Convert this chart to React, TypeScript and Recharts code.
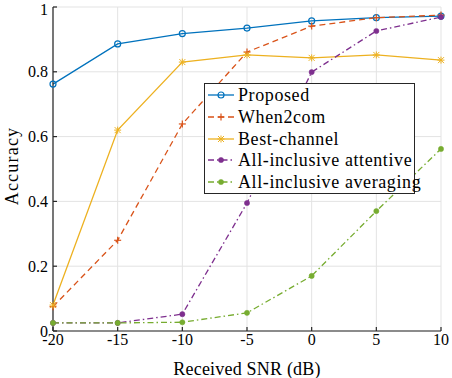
import React from 'react';
import { LineChart, Line, XAxis, YAxis, CartesianGrid, Legend } from 'recharts';

const snr = [-20, -15, -10, -5, 0, 5, 10];
const proposed = [0.762, 0.886, 0.918, 0.935, 0.957, 0.967, 0.972];
const when2com = [0.075, 0.28, 0.639, 0.861, 0.941, 0.967, 0.975];
const bestChannel = [0.08, 0.62, 0.83, 0.852, 0.843, 0.852, 0.836];
const attentive = [0.025, 0.025, 0.052, 0.395, 0.799, 0.926, 0.969];
const averaging = [0.025, 0.025, 0.027, 0.056, 0.17, 0.37, 0.562];
const xTicks = [-20, -15, -10, -5, 0, 5, 10];
const yTicks = [0, 0.2, 0.4, 0.6, 0.8, 1];

const data = snr.map((s, i) => ({
  snr: s,
  proposed: proposed[i],
  when2com: when2com[i],
  best: bestChannel[i],
  attentive: attentive[i],
  averaging: averaging[i],
}));

const FONT = '"Liberation Serif", "DejaVu Serif", serif';
const AX = '#262626';

type Kind = 'circle' | 'plus' | 'star' | 'dot';

const Marker = ({ kind, cx, cy, color }: { kind: Kind; cx: number; cy: number; color: string }) => {
  if (kind === 'circle') return <circle cx={cx} cy={cy} r={3} fill="none" stroke={color} strokeWidth={1.2} />;
  if (kind === 'dot') return <circle cx={cx} cy={cy} r={2.6} fill={color} stroke={color} strokeWidth={0.5} />;
  if (kind === 'plus')
    return (
      <g stroke={color} strokeWidth={1.2}>
        <line x1={cx - 3.5} y1={cy} x2={cx + 3.5} y2={cy} />
        <line x1={cx} y1={cy - 3.5} x2={cx} y2={cy + 3.5} />
      </g>
    );
  return (
    <g stroke={color} strokeWidth={1}>
      <line x1={cx - 3} y1={cy - 3} x2={cx + 3} y2={cy + 3} />
      <line x1={cx - 3} y1={cy + 3} x2={cx + 3} y2={cy - 3} />
      <line x1={cx - 3.5} y1={cy} x2={cx + 3.5} y2={cy} />
      <line x1={cx} y1={cy - 3.5} x2={cx} y2={cy + 3.5} />
    </g>
  );
};

const series = [
  { key: 'proposed', name: 'Proposed', color: '#0072BD', dash: undefined as string | undefined, kind: 'circle' as Kind },
  { key: 'when2com', name: 'When2com', color: '#D95319', dash: '6 4', kind: 'plus' as Kind },
  { key: 'best', name: 'Best-channel', color: '#EDB120', dash: undefined, kind: 'star' as Kind },
  { key: 'attentive', name: 'All-inclusive attentive', color: '#7E2F8E', dash: '6 3 1.5 3', kind: 'dot' as Kind },
  { key: 'averaging', name: 'All-inclusive averaging', color: '#77AC30', dash: '6 3 1.5 3', kind: 'dot' as Kind },
];

const LegendContent = () => (
  <div
    style={{
      border: `1px solid ${AX}`,
      background: '#fff',
      width: 211,
      height: 111,
      padding: '0 0 0 3px',
      fontFamily: FONT,
      fontSize: 18,
      letterSpacing: 0.6,
      lineHeight: '18px',
      color: '#000',
      boxSizing: 'border-box',
      display: 'flex',
      flexDirection: 'column',
      justifyContent: 'center',
    }}
  >
    {series.map((s) => (
      <div key={s.key} style={{ display: 'flex', alignItems: 'center', height: 21.7 }}>
        <svg width={27} height={12} style={{ marginRight: 3, flex: 'none' }}>
          <line x1={0} y1={6} x2={26} y2={6} stroke={s.color} strokeWidth={1.3} strokeDasharray={s.dash} />
          <Marker kind={s.kind} cx={13} cy={6} color={s.color} />
        </svg>
        <span style={{ whiteSpace: 'nowrap' }}>{s.name}</span>
      </div>
    ))}
  </div>
);

const YLabel = () => (
  <text
    x={12}
    y={166}
    transform="rotate(-90 12 166)"
    textAnchor="middle"
    dominantBaseline="central"
    fontFamily={FONT}
    fontSize={18}
    letterSpacing={1.2}
    fill="#000"
  >
    Accuracy
  </text>
);

const emptyTick = () => <g />;

export default function App() {
  return (
    <div style={{ position: 'absolute', left: 0, top: 0, width: 452, height: 378, background: '#fff' }}>
      <LineChart width={452} height={378} data={data} margin={{ top: 7, right: 11, bottom: 0, left: 0 }}>
        <CartesianGrid stroke="#e3e3e3" strokeWidth={1} />
        <XAxis
          xAxisId="top"
          orientation="top"
          dataKey="snr"
          type="number"
          domain={[-20, 10]}
          ticks={xTicks}
          height={0}
          tick={emptyTick}
          tickSize={-4}
          stroke={AX}
          strokeWidth={1.2}
        />
        <YAxis
          yAxisId="right"
          orientation="right"
          type="number"
          domain={[0, 1]}
          ticks={yTicks}
          width={0}
          tick={emptyTick}
          tickSize={-4}
          stroke={AX}
          strokeWidth={1.2}
        />
        <XAxis
          dataKey="snr"
          type="number"
          domain={[-20, 10]}
          ticks={xTicks}
          height={47}
          tickSize={-4}
          tickMargin={7}
          stroke={AX}
          strokeWidth={1.2}
          tick={{ fontFamily: FONT, fontSize: 16, fill: '#000' }}
          label={{ value: 'Received SNR (dB)', position: 'insideBottom', offset: 3, style: { fontFamily: FONT, fontSize: 18, letterSpacing: 0.2, fill: '#000' } }}
        />
        <YAxis
          type="number"
          domain={[0, 1]}
          ticks={yTicks}
          width={53}
          tickSize={-4}
          tickMargin={9}
          stroke={AX}
          strokeWidth={1.2}
          tickFormatter={(v: number) => String(v)}
          tick={{ fontFamily: FONT, fontSize: 16, fill: '#000' }}
          label={<YLabel />}
        />
        {series.map((s) => (
          <Line
            key={s.key}
            dataKey={s.key}
            name={s.name}
            stroke={s.color}
            strokeWidth={1.3}
            strokeDasharray={s.dash}
            isAnimationActive={false}
            dot={(p: any) => <Marker key={`${s.key}-${p.index}`} kind={s.kind} cx={p.cx} cy={p.cy} color={s.color} />}
            activeDot={false}
          />
        ))}
        <Legend
          content={<LegendContent />}
          layout="vertical"
          verticalAlign="middle"
          align="center"
          wrapperStyle={{ left: 204, top: 83, width: 211, height: 111 }}
        />
      </LineChart>
    </div>
  );
}
